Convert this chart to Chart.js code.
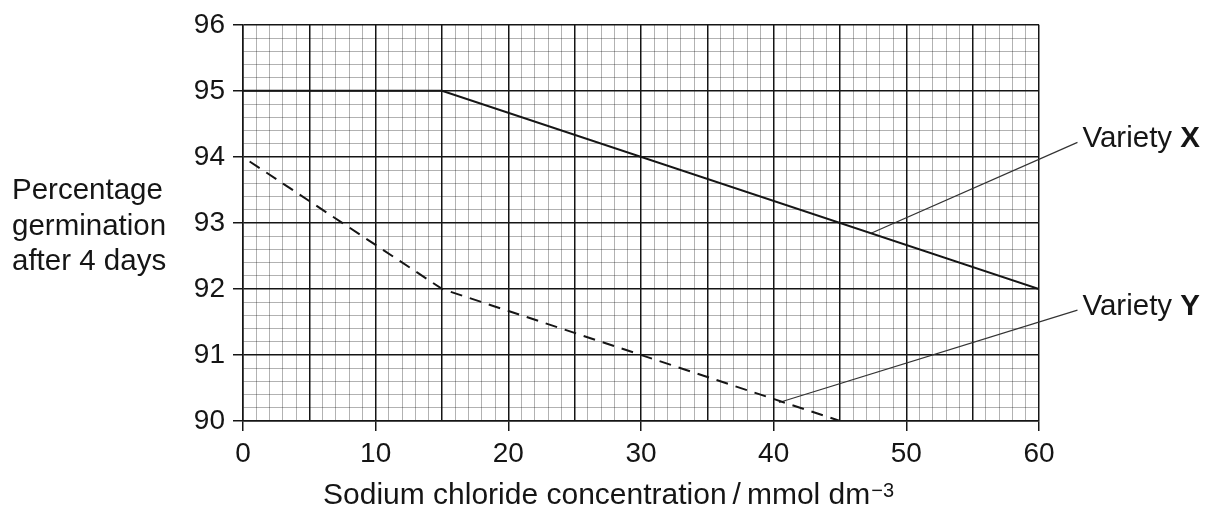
<!DOCTYPE html>
<html>
<head>
<meta charset="utf-8">
<title>Percentage germination vs sodium chloride concentration</title>
<script src="https://cdn.jsdelivr.net/npm/chart.js@4.4.1/dist/chart.umd.min.js"></script>
<style>
  html, body { margin: 0; padding: 0; background: #fff; }
  #wrap { width: 1206px; height: 509px; }
</style>
</head>
<body>
<div id="wrap"><canvas id="germChart" width="1206" height="509"></canvas></div>
<script>
// values
const varietyXConc = [0, 15, 60];
const varietyXPct = [95, 95, 92];
const varietyYConc = [0.5, 15, 45];
const varietyYPct = [93.93, 92, 90];

// label leader lines (start on the curve, end by the text)
const leaderXConc = [47.3, 62.9];
const leaderXPct = [92.84, 94.22];
const leaderYConc = [40.4, 62.9];
const leaderYPct = [90.28, 91.68];
const varietyNames = ['X', 'Y'];

const xTickLabels = [0, 10, 20, 30, 40, 50, 60];
const yTickLabels = [90, 91, 92, 93, 94, 95, 96];

const xTitle = 'Sodium chloride concentration\u2009/\u2009mmol dm';
const xTitleSup = '\u22123';
const yTitleLines = ['Percentage', 'germination', 'after 4 days'];

const FONT = '"Liberation Sans", Arial, sans-serif';
const TEXT_SIZE = 29.5;
const INK = '#151515';

function toPoints(xs, ys) {
  return xs.map((x, i) => ({ x: x, y: ys[i] }));
}

function isWhole(v, step) {
  const r = v / step;
  return Math.abs(r - Math.round(r)) < 1e-6;
}

// text the axes can't do on their own: horizontal y title, superscript, variety labels
const labelPlugin = {
  id: 'labels',
  afterDraw(chart) {
    const ctx = chart.ctx;
    const xs = chart.scales.x;
    const ys = chart.scales.y;
    const regular = TEXT_SIZE + 'px ' + FONT;
    ctx.save();
    ctx.fillStyle = INK;

    // y title
    ctx.font = regular;
    ctx.textAlign = 'left';
    ctx.textBaseline = 'alphabetic';
    yTitleLines.forEach((line, i) => {
      ctx.fillText(line, 12, 199 + i * 35.5);
    });

    // x title with superscript
    ctx.font = '30px ' + FONT;
    ctx.fillText(xTitle, 323, 504);
    const mainW = ctx.measureText(xTitle).width;
    ctx.font = '20px ' + FONT;
    ctx.fillText(xTitleSup, 323 + mainW + 1, 497);

    // variety labels at the end of each leader
    const ends = [
      [leaderXConc[1], leaderXPct[1]],
      [leaderYConc[1], leaderYPct[1]]
    ];
    ctx.textBaseline = 'middle';
    ends.forEach((end, i) => {
      const px = xs.getPixelForValue(end[0]) + 5;
      const py = ys.getPixelForValue(end[1]) - 3;
      ctx.font = regular;
      ctx.fillText('Variety ', px, py);
      const w = ctx.measureText('Variety ').width;
      ctx.font = 'bold ' + regular;
      ctx.fillText(varietyNames[i], px + w, py);
    });
    ctx.restore();
  }
};

const lineStyle = {
  borderColor: INK,
  borderWidth: 2,
  pointRadius: 0,
  tension: 0,
  fill: false
};

new Chart(document.getElementById('germChart'), {
  type: 'line',
  data: {
    datasets: [
      Object.assign({ label: 'Variety X', data: toPoints(varietyXConc, varietyXPct) }, lineStyle),
      Object.assign({ label: 'Variety Y', data: toPoints(varietyYConc, varietyYPct), borderDash: [12, 8] }, lineStyle),
      { label: 'leader X', data: toPoints(leaderXConc, leaderXPct), borderColor: '#333', borderWidth: 1.2, pointRadius: 0, clip: false },
      { label: 'leader Y', data: toPoints(leaderYConc, leaderYPct), borderColor: '#333', borderWidth: 1.2, pointRadius: 0, clip: false }
    ]
  },
  options: {
    responsive: false,
    animation: false,
    layout: { padding: { top: 24, right: 167, bottom: 0, left: 0 } },
    plugins: {
      legend: { display: false },
      tooltip: { enabled: false }
    },
    scales: {
      x: {
        type: 'linear',
        min: 0,
        max: 60,
        afterFit: (scale) => { scale.height = 88; },
        border: { color: INK, width: 1.5 },
        grid: {
          color: (c) => isWhole(c.tick.value, 5) ? INK : 'rgba(0,0,0,0.3)',
          lineWidth: (c) => isWhole(c.tick.value, 5) ? 1.5 : 1,
          tickColor: (c) => isWhole(c.tick.value, 10) ? INK : 'rgba(0,0,0,0)',
          tickLength: 10,
          tickWidth: 1.5
        },
        ticks: {
          stepSize: 1,
          autoSkip: false,
          maxRotation: 0,
          padding: 6,
          color: INK,
          font: { family: FONT, size: 28 },
          callback: (v) => xTickLabels.includes(v) ? String(v) : ''
        }
      },
      y: {
        type: 'linear',
        min: 90,
        max: 96,
        afterFit: (scale) => { scale.width = 243; },
        border: { color: INK, width: 1.5 },
        grid: {
          color: (c) => isWhole(c.tick.value, 1) ? INK : 'rgba(0,0,0,0.3)',
          lineWidth: (c) => isWhole(c.tick.value, 1) ? 1.5 : 1,
          tickColor: (c) => isWhole(c.tick.value, 1) ? INK : 'rgba(0,0,0,0)',
          tickLength: 10,
          tickWidth: 1.5
        },
        ticks: {
          stepSize: 0.2,
          autoSkip: false,
          padding: 8,
          color: INK,
          font: { family: FONT, size: 28 },
          callback: (v) => {
            const r = Math.round(v);
            return Math.abs(v - r) < 1e-6 && yTickLabels.includes(r) ? String(r) : '';
          }
        }
      }
    }
  },
  plugins: [labelPlugin]
});
</script>
</body>
</html>
